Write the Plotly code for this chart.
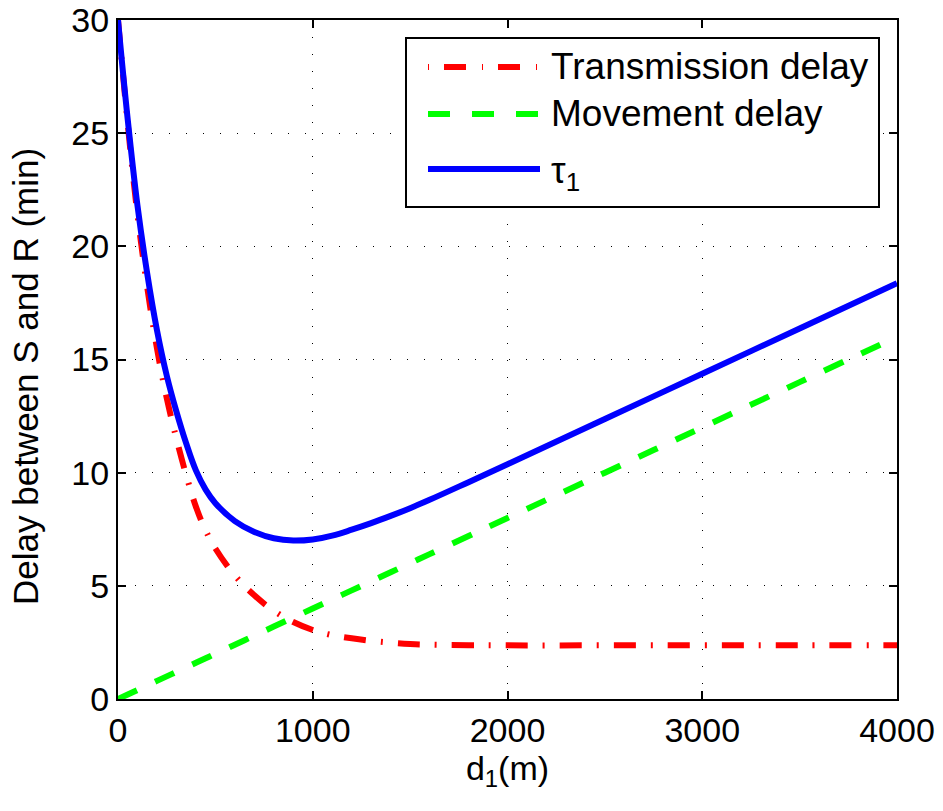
import plotly.graph_objects as go

# Distance d1 between S and R (m)
d1 = [0, 50, 100, 150, 200, 250, 300, 350, 400, 450, 500, 600, 700, 800, 900,
      1000, 1100, 1200, 1300, 1400, 1500, 1600, 1800, 2000, 2500, 3000, 3500, 4000]

# Delay components (min)
transmission_delay = [30.0, 25.4, 21.4, 18.2, 15.5, 13.3, 11.5, 9.9, 8.5, 7.45, 6.65, 5.46, 4.58, 3.9, 3.4,
                      3.05, 2.82, 2.68, 2.57, 2.49, 2.43, 2.4, 2.38, 2.37, 2.37, 2.37, 2.37, 2.37]
movement_delay = [0.0, 0.2, 0.4, 0.6, 0.8, 1.0, 1.2, 1.4, 1.6, 1.8, 2.0, 2.4, 2.8, 3.2, 3.6,
                  4.0, 4.4, 4.8, 5.2, 5.6, 6.0, 6.4, 7.2, 8.0, 10.0, 12.0, 14.0, 16.0]
tau_1 = [30.0, 25.6, 21.8, 18.8, 16.3, 14.3, 12.7, 11.3, 10.1, 9.25, 8.65, 7.86, 7.38, 7.1, 7.0,
         7.05, 7.22, 7.48, 7.77, 8.09, 8.43, 8.8, 9.58, 10.37, 12.37, 14.37, 16.37, 18.37]

x_ticks = [0, 1000, 2000, 3000, 4000]
y_ticks = [0, 5, 10, 15, 20, 25, 30]

series_names = ["Transmission delay", "Movement delay", "τ<sub>1</sub>"]
series_colors = ["#ff0000", "#00ff00", "#0000ff"]
series_dash = ["22px,15px,2px,15px", "21px,20px", "solid"]

W, H = 943, 811
L, R, T, B = 118, 46, 20, 112
PW, PH = W - L - R, H - T - B

FONT = "Liberation Sans, Arial, Helvetica, sans-serif"


def px_x(px):
    return (px - L) / PW


def px_y(py):
    return (H - B - py) / PH


fig = go.Figure()
for y, name, color, dash in zip([transmission_delay, movement_delay, tau_1],
                                series_names, series_colors, series_dash):
    fig.add_trace(go.Scatter(
        x=d1, y=y, mode="lines", name=name, showlegend=False,
        line=dict(color=color, width=6, dash=dash, shape="spline", smoothing=1.1),
    ))

axis_common = dict(
    showline=True, linecolor="black", linewidth=2, mirror="ticks",
    ticks="inside", ticklen=8, tickwidth=1.5, tickcolor="black",
    showgrid=True, gridcolor="black", gridwidth=1, griddash="1px,16px",
    zeroline=False, automargin=False,
    tickfont=dict(family=FONT, size=34, color="black"),
)

fig.update_xaxes(range=[0, 4000], tickvals=x_ticks, ticktext=[str(v) for v in x_ticks],
                 title=dict(text="d<sub>1</sub>(m)", font=dict(family=FONT, size=34, color="black"),
                            standoff=6),
                 **axis_common)
fig.update_yaxes(range=[0, 30], tickvals=y_ticks, ticktext=[str(v) for v in y_ticks],
                 **axis_common)

annotations = [dict(xref="paper", yref="paper", x=px_x(25), y=px_y(377),
                    xanchor="center", yanchor="middle", showarrow=False, textangle=-90,
                    text="Delay between S and R (min)",
                    font=dict(family=FONT, size=35, color="black"))]

# Legend box with sample lines
shapes = [dict(type="rect", xref="paper", yref="paper",
               x0=px_x(406), x1=px_x(879), y0=px_y(207), y1=px_y(38),
               line=dict(color="black", width=2), fillcolor="white", layer="above")]
legend_rows = [67, 114, 169]
legend_dash = ["1px,15px,22px,16px", "22px,22px", "solid"]
for row, name, color, dash in zip(legend_rows, series_names, series_colors, legend_dash):
    shapes.append(dict(type="line", xref="paper", yref="paper",
                       x0=px_x(428), x1=px_x(540), y0=px_y(row), y1=px_y(row),
                       line=dict(color=color, width=6, dash=dash), layer="above"))
    annotations.append(dict(xref="paper", yref="paper", x=px_x(549), y=px_y(row + (4 if row == 169 else 0)),
                            xanchor="left", yanchor="middle", showarrow=False, text=name,
                            font=dict(family=FONT, size=37, color="black")))

fig.update_layout(
    width=W, height=H, margin=dict(l=L, r=R, t=T, b=B),
    paper_bgcolor="white", plot_bgcolor="white",
    shapes=shapes, annotations=annotations,
)

fig.write_html("out.html")
